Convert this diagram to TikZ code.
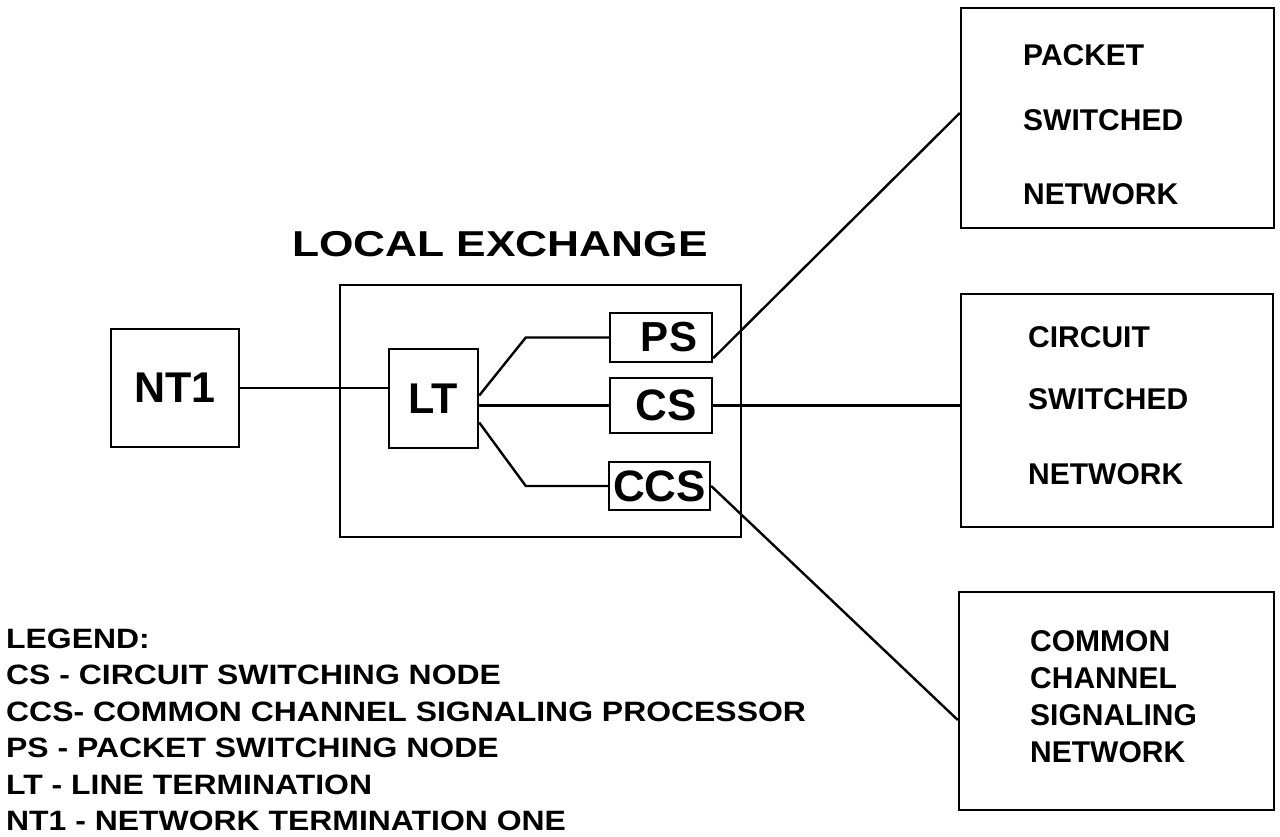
\documentclass[tikz,border=0pt]{standalone}
\usepackage{fontspec}
\setmainfont{Liberation Sans}
\usepackage{graphicx}
\newcommand{\hstretch}[2]{\scalebox{#1}[1]{#2}}
\begin{document}
\begin{tikzpicture}[x=1pt,y=-1pt,
  box/.style={draw, line width=2.4pt, inner sep=0pt, rectangle},
  wire/.style={line width=2.4pt},
  big/.style={font=\fontsize{43}{43}\selectfont\bfseries},
  lbl/.style={font=\fontsize{30}{30}\selectfont\bfseries, anchor=base west, inner sep=0pt},
  leg/.style={font=\fontsize{28}{28}\selectfont\bfseries, anchor=base west, inner sep=0pt}]
\fill[white] (0,0) rectangle (1280,836);
\useasboundingbox (0,0) rectangle (1280,836);

% local exchange
\node[font=\fontsize{36}{36}\selectfont\bfseries, inner sep=0pt] (title) at (500,244) {\hstretch{1.23}{LOCAL EXCHANGE}};
\node[box, minimum width=401pt, minimum height=252pt] (LE) at (540.5,411) {};

\node[box, big, minimum width=128pt, minimum height=118pt] (NT1) at (175,388) {NT1};
\node[box, big, minimum width=89pt, minimum height=99pt] (LT) at (433.5,398.5) {LT};
\node[box, font=\fontsize{42}{42}\selectfont\bfseries, minimum width=102pt, minimum height=49pt] (PS) at (661,337.5) {\hspace*{16pt}PS};
\node[box, font=\fontsize{44}{44}\selectfont\bfseries, minimum width=102pt, minimum height=55pt] (CS) at (661,405.5) {\hspace*{10pt}CS};
\node[box, font=\fontsize{44}{44}\selectfont\bfseries, minimum width=101pt, minimum height=48pt] (CCS) at (659.5,486) {CCS};

% networks
\node[box, minimum width=313pt, minimum height=220pt] (PSN) at (1117.5,118) {};
\node[lbl] (psn1) at (1023,65) {PACKET};
\node[lbl] (psn2) at (1023,130) {SWITCHED};
\node[lbl] (psn3) at (1023,204) {NETWORK};

\node[box, minimum width=312pt, minimum height=233pt] (CSN) at (1117,410.5) {};
\node[lbl] (csn1) at (1028,347) {CIRCUIT};
\node[lbl] (csn2) at (1028,409) {SWITCHED};
\node[lbl] (csn3) at (1028,484) {NETWORK};

\node[box, minimum width=315pt, minimum height=218pt] (CCSN) at (1116.5,701) {};
\node[lbl] (ccsn1) at (1030,651) {COMMON};
\node[lbl] (ccsn2) at (1030,688) {CHANNEL};
\node[lbl] (ccsn3) at (1030,725) {SIGNALING};
\node[lbl] (ccsn4) at (1030,762) {NETWORK};

% connectors
\draw[wire] (NT1.east) -- (NT1.east -| LT.west);
\draw[wire] ([yshift=3pt]LT.east) -- ([xshift=-83pt]PS.west) -- (PS.west);
\draw[wire] (LT.east |- CS.west) -- (CS.west);
\draw[wire] ([yshift=-24pt]LT.east) -- ([xshift=-82pt]CCS.west) -- (CCS.west);
\draw[wire] ([yshift=5pt]PS.south east) -- ([yshift=5pt]PSN.west);
\draw[wire] (CS.east) -- (CS.east -| CSN.west);
\draw[wire] (CCS.east) -- ([yshift=-19pt]CCSN.west);

% legend
\node[leg] (leg0) at (6,648) {\hstretch{1.14}{LEGEND:}};
\node[leg] (leg1) at (6,684.5) {\hstretch{1.14}{CS - CIRCUIT SWITCHING NODE}};
\node[leg] (leg2) at (6,721) {\hstretch{1.14}{CCS- COMMON CHANNEL SIGNALING PROCESSOR}};
\node[leg] (leg3) at (6,757.5) {\hstretch{1.14}{PS - PACKET SWITCHING NODE}};
\node[leg] (leg4) at (6,794) {\hstretch{1.14}{LT - LINE TERMINATION}};
\node[leg] (leg5) at (6,830.5) {\hstretch{1.14}{NT1 - NETWORK TERMINATION ONE}};
\end{tikzpicture}
\end{document}
